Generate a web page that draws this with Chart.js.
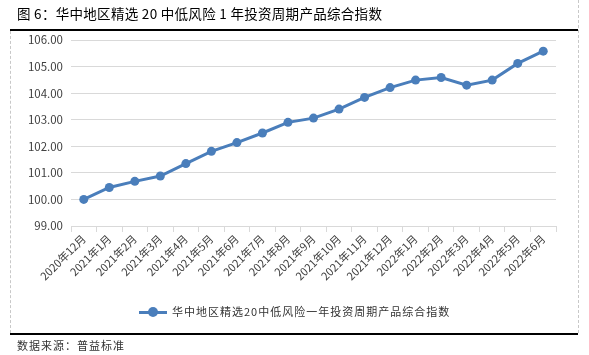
<!DOCTYPE html>
<html>
<head>
<meta charset="utf-8">
<script src="https://cdn.jsdelivr.net/npm/chart.js@4.4.0/dist/chart.umd.min.js"></script>
<style>
  html, body { margin: 0; padding: 0; background: #fff; }
  #wrap { position: relative; width: 589px; height: 355px; overflow: hidden; font-family: "Noto Sans CJK SC", sans-serif; }
  #title { position: absolute; left: 17px; top: 3px; font-size: 13.5px; letter-spacing: 0.3px; color: #000; white-space: nowrap; line-height: 20px; }
  #topline { position: absolute; left: 10px; top: 29px; width: 568px; height: 2px; background: #000; }
  #botline { position: absolute; left: 10px; top: 333px; width: 568px; height: 2px; background: #000; }
  #ldash { position: absolute; left: 10px; top: 31px; height: 302px; border-left: 1px dashed #c8c8c8; }
  #rdash { position: absolute; left: 578px; top: 0px; height: 333px; border-left: 1px dashed #c8c8c8; }
  #source { position: absolute; left: 17px; top: 336px; font-size: 11px; letter-spacing: 1px; color: #333; white-space: nowrap; line-height: 18px; }
  #legend { position: absolute; left: 139px; top: 302px; height: 18px; white-space: nowrap; font-size: 11px; letter-spacing: 1px; color: #333; line-height: 18px; }
  #legend .ln { display: inline-block; position: relative; width: 28px; height: 3px; background: #4a7ebb; vertical-align: middle; margin-right: 5px; top: -1px; }
  #legend .dt { position: absolute; left: 9px; top: -3.5px; width: 10px; height: 10px; border-radius: 50%; background: #4a7ebb; }
  canvas { position: absolute; left: 0; top: 0; }
</style>
</head>
<body>
<div id="wrap">
  <canvas id="c" width="589" height="355"></canvas>
  <div id="title">图 6：华中地区精选 20 中低风险 1 年投资周期产品综合指数</div>
  <div id="topline"></div>
  <div id="ldash"></div>
  <div id="rdash"></div>
  <div id="botline"></div>
  <div id="legend"><span class="ln"><span class="dt"></span></span>华中地区精选20中低风险一年投资周期产品综合指数</div>
  <div id="source">数据来源：普益标准</div>
</div>
<script>
const categories = ["2020年12月","2021年1月","2021年2月","2021年3月","2021年4月","2021年5月","2021年6月","2021年7月","2021年8月","2021年9月","2021年10月","2021年11月","2021年12月","2022年1月","2022年2月","2022年3月","2022年4月","2022年5月","2022年6月"];
const indexValues = [100.00,100.45,100.68,100.88,101.35,101.81,102.14,102.50,102.90,103.06,103.40,103.84,104.21,104.49,104.59,104.30,104.49,105.12,105.58];
const yMin = 99, yMax = 106, yStep = 1;
const seriesName = "华中地区精选20中低风险一年投资周期产品综合指数";

const lineColor = "#4a7ebb";
new Chart(document.getElementById("c"), {
  type: "line",
  data: {
    labels: categories,
    datasets: [{
      label: seriesName,
      data: indexValues,
      borderColor: lineColor,
      backgroundColor: lineColor,
      borderWidth: 3,
      pointRadius: 4.5,
      pointHoverRadius: 4.5,
      pointBackgroundColor: lineColor,
      pointBorderWidth: 0,
      tension: 0
    }]
  },
  options: {
    responsive: false,
    animation: false,
    devicePixelRatio: 1,
    layout: { padding: { left: 0, right: 33, top: 40, bottom: 0 } },
    plugins: { legend: { display: false }, tooltip: { enabled: false } },
    scales: {
      x: {
        offset: true,
        grid: { offset: true, drawOnChartArea: false, drawTicks: true, tickLength: 6, color: "#d9d9d9", lineWidth: 1 },
        border: { display: true, color: "#d9d9d9", width: 1 },
        ticks: {
          autoSkip: false, maxRotation: 45, minRotation: 45, padding: 0,
          color: "#404040",
          font: { family: "Noto Sans CJK SC", size: 11 }
        },
        afterFit: (s) => { s.height = 129; }
      },
      y: {
        min: yMin, max: yMax,
        grid: { color: "#d9d9d9", lineWidth: 1, drawTicks: false },
        border: { display: false },
        ticks: {
          stepSize: yStep, padding: 8, color: "#404040",
          font: { family: "Noto Sans CJK SC", size: 11.5 },
          callback: (v) => Number(v).toFixed(2)
        },
        afterFit: (s) => { s.width = 71; }
      }
    }
  }
});
</script>
</body>
</html>
